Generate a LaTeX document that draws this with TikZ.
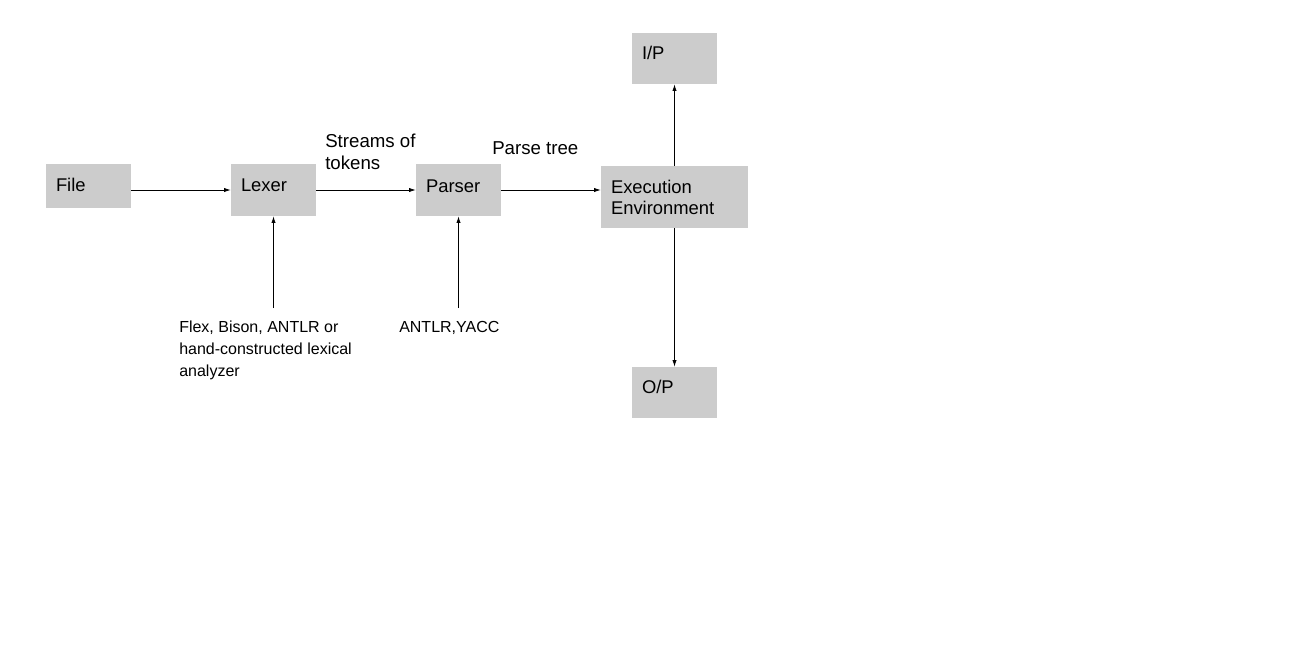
\documentclass[tikz,border=0pt]{standalone}
\usepackage{fontspec}
\setmainfont{Liberation Sans}
\usepackage{xcolor}
\usetikzlibrary{arrows.meta}
\definecolor{boxgray}{HTML}{CCCCCC}

\begin{document}
\begin{tikzpicture}[x=0.75pt,y=-0.75pt,
    box/.style 2 args={fill=boxgray, inner xsep=7.5pt, inner ysep=0pt, text width=#1, minimum height=#2, align=left, font=\fontsize{13.8}{15.75}\selectfont},
    lift/.style={text height=10pt, text depth=#1},
    note/.style={inner sep=0pt, anchor=west, align=left, font=\fontsize{14}{16.5}\selectfont},
    small/.style={inner sep=0pt, anchor=west, align=left, font=\fontsize{12}{16.5}\selectfont},
    arr/.style={-{Latex[length=5pt,width=3.2pt]}, line width=0.6pt}]
    \useasboundingbox (0,0) rectangle (1309,665);
    % boxes
    \node[box={48.75pt}{33pt}, lift=1.6pt] (file) at (88.5,186) {File};
    \node[box={48.75pt}{39pt}, lift=7.6pt] (lexer) at (273.5,190) {Lexer};
    \node[box={48.75pt}{39pt}, lift=6.8pt] (parser) at (458.5,190) {Parser};
    \node[box={95.25pt}{46.5pt}] (exec) at (674.5,197) {Execution\\Environment};
    \node[box={48.75pt}{38.25pt}, lift=8.3pt] (ip) at (674.5,58.5) {I/P};
    \node[box={48.75pt}{38.25pt}, lift=8.3pt] (op) at (674.5,392.5) {O/P};
    % labels
    \node[note] (tokens) at (325,152) {Streams of\\tokens};
    \node[note] (tree) at (492,148) {Parse tree};
    \node[small] (lextools) at (179,350) {Flex, Bison, ANTLR or\\hand-constructed lexical\\analyzer};
    \node[small] (parsetools) at (399,328) {ANTLR,YACC};
    \coordinate (lexsrc) at (273.5,308);
    \coordinate (parsesrc) at (458.5,308);
    % arrows
    \draw[arr] (file.east |- lexer) -- (lexer.west);
    \draw[arr] (lexer) -- (parser);
    \draw[arr] (parser.east) -- (parser.east -| exec.west);
    \draw[arr] (lexsrc) -- (lexer.south);
    \draw[arr] (parsesrc) -- (parser.south);
    \draw[arr] (exec) -- (ip);
    \draw[arr] (exec) -- (op);
\end{tikzpicture}
\end{document}
